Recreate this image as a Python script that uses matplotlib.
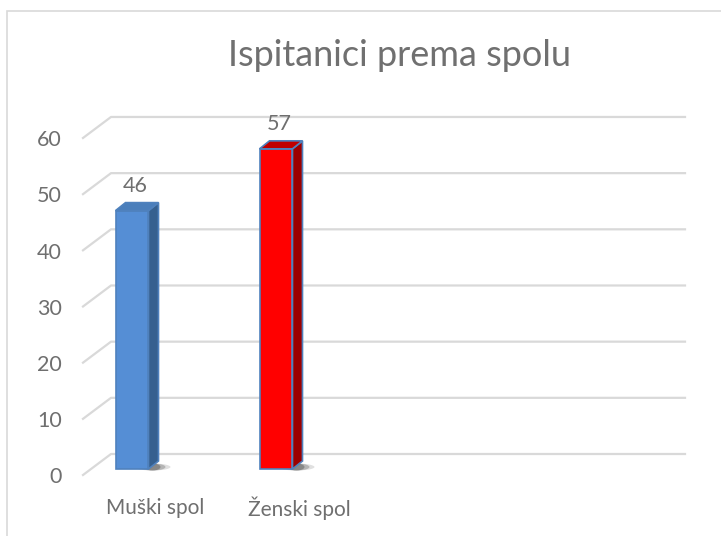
import matplotlib
matplotlib.use("Agg")
import matplotlib.pyplot as plt
from matplotlib.patches import Polygon, Rectangle, Ellipse
from matplotlib.transforms import offset_copy, IdentityTransform

# data
categories = ["Muški spol", "Ženski spol"]
values = [46, 57]
yticks = [0, 10, 20, 30, 40, 50, 60]

front_colors = ["#558ed5", "#ff0000"]
side_colors = ["#36608f", "#9c0000"]
top_colors = ["#4a7ebb", "#c00000"]
edge = "#4f81bd"
grid_c = "#d9d9d9"
text_c = "#6f6f6f"

plt.rcParams['font.family'] = ['Lato', 'DejaVu Sans']

W, H = 721, 536
fig = plt.figure(figsize=(W / 100, H / 100), dpi=100)

# axes placed in pixel terms: x 83..688, y 110..490 (from top)
ax = fig.add_axes([83 / W, (H - 490) / H, (688 - 83) / W, 380 / H])
ax.set_axis_off()

unit_x = 144.0    # px between categories
unit_y = 5.617    # px per value unit
x0 = 132.0        # px of first bar centre
ax.set_xlim((83 - x0) / unit_x, (688 - x0) / unit_x)
ax.set_ylim(-(490 - 469) / unit_y, (469 - 110) / unit_y)

# back wall is shifted 15 px up from the bar plane
back = offset_copy(ax.transData, fig=fig, x=0, y=15, units='dots')
xb = (111 - x0) / unit_x
xe = (685 - x0) / unit_x
xf = (83 - x0) / unit_x
dy_front = 21 / unit_y
for v in yticks:
    ax.plot([xf, xb, xe], [v - dy_front, v, v], color=grid_c, lw=1.6,
            transform=back, clip_on=False, zorder=1)
    ax.text((62 - x0) / unit_x, v - dy_front - 0.4, str(v), transform=back,
            ha='right', va='center', fontsize=15.5, color=text_c)

xs = list(range(len(categories)))
width = 0.229
bars = ax.bar(xs, values, width, color=front_colors, edgecolor=edge,
              linewidth=1.2, zorder=4)

# fake 3D depth: side and top faces
dx, dz = 10, 8
for bar, sc, tc in zip(bars, side_colors, top_colors):
    x_l = bar.get_x()
    x_r = x_l + bar.get_width()
    h = bar.get_height()
    (pl0, pb), (pr0, pt) = ax.transData.transform([(x_l, 0), (x_r, h)])
    # shadow on the floor
    for w_, a_ in [(36, 0.15), (26, 0.25), (16, 0.35)]:
        ax.add_artist(Ellipse((pr0 + 4, pb + 2), w_, 7, color="#333333", alpha=a_,
                              transform=IdentityTransform(), zorder=2, lw=0))
    side = Polygon([(pr0, pb), (pr0 + dx, pb + dz), (pr0 + dx, pt + dz), (pr0, pt)],
                   closed=True, facecolor=sc, edgecolor=edge, lw=1.2,
                   transform=IdentityTransform(), zorder=3)
    top = Polygon([(pl0, pt), (pl0 + dx, pt + dz), (pr0 + dx, pt + dz), (pr0, pt)],
                  closed=True, facecolor=tc, edgecolor=edge, lw=1.2,
                  transform=IdentityTransform(), zorder=5)
    ax.add_artist(side)
    ax.add_artist(top)

# data labels
for bar in bars:
    h = bar.get_height()
    ax.annotate(str(h), xy=(bar.get_x() + bar.get_width() / 2, h),
                xytext=(3, 25), textcoords='offset pixels',
                ha='center', va='center', fontsize=15.5, color=text_c)

# category labels on the front floor edge
for x, lab in zip(xs, categories):
    ax.annotate(lab, xy=(x, 0), xytext=(23, -39), textcoords='offset pixels',
                ha='center', va='center', fontsize=15, color=text_c,
                annotation_clip=False)

fig.text(399 / W, 1 - 55 / H, "Ispitanici prema spolu", ha='center', va='center',
         fontsize=26, color="#707070")

# chart area border
fig.add_artist(Rectangle((7 / W, -0.1), 1.0, (H - 11) / H + 0.1,
                         transform=fig.transFigure, fill=False,
                         edgecolor=grid_c, lw=1.2))

fig.savefig("out.png", dpi=100)
